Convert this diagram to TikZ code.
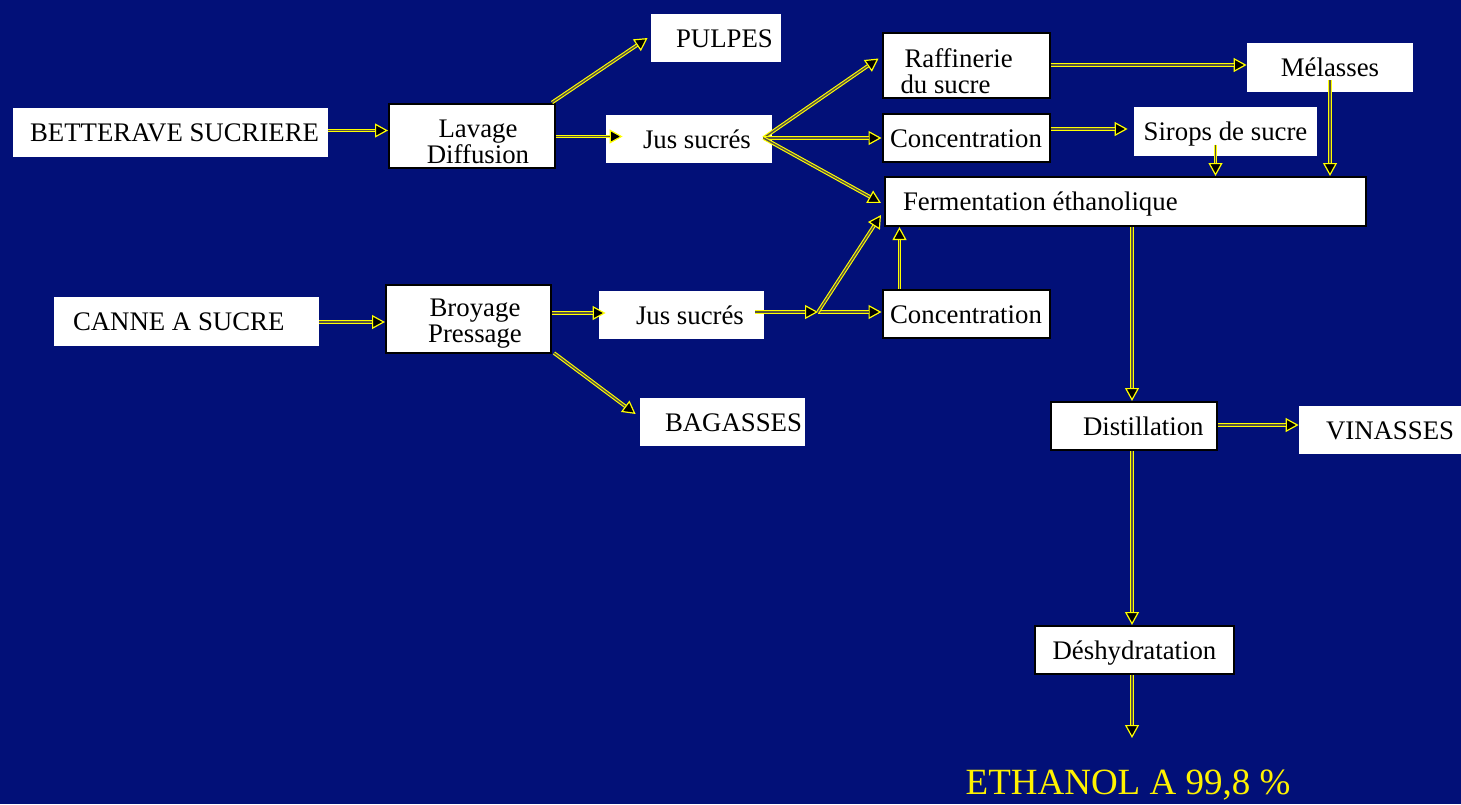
\documentclass[tikz,border=0pt]{standalone}
\usepackage{fontspec}
\setmainfont{Liberation Serif}
\usetikzlibrary{arrows.meta,calc}
\definecolor{bgblue}{RGB}{2,16,120}
\definecolor{arrowyellow}{RGB}{255,255,0}
\tikzset{
  boxed/.style={fill=white, draw=black, line width=1pt, inner sep=0pt, font=\fontsize{13.4}{13}\selectfont, text=black},
  plainbox/.style={fill=white, draw=none, inner sep=0pt, font=\fontsize{13.4}{13}\selectfont, text=black},
  oneline/.style={text height=9pt, text depth=0pt},
  flow/.style={draw=arrowyellow, line width=1.8pt,
    -{Triangle[length=6.5pt,width=7pt,fill=black,line width=0.6pt]},
    postaction={draw=black!75!yellow, line width=0.7pt, -, shorten >=6.5pt}},
}
\begin{document}
\begin{tikzpicture}[x=0.5pt,y=-0.5pt]
\fill[bgblue] (0,0) rectangle (1461,804);
\useasboundingbox (0,0) rectangle (1461,804);

% nodes
\node[plainbox, oneline, text width=157.5pt, minimum height=24.5pt, align=flush left] (bett) at (170.5,132.5) {\hspace*{8.5pt}BETTERAVE SUCRIERE};
\node[boxed, text width=83pt, minimum height=32pt, text height=14.5pt, text depth=13pt, align=center] (lav) at (472,135.5) {\hspace*{6pt}Lavage\\\hspace*{6pt}Diffusion};
\node[plainbox, oneline, text width=65pt, minimum height=24pt, align=flush left] (pulp) at (716,38) {\hspace*{12.5pt}PULPES};
\node[plainbox, oneline, text width=83pt, minimum height=24pt, align=flush left] (jus1) at (689,139) {\hspace*{18.5pt}Jus sucrés};
\node[boxed, text width=83.5pt, minimum height=32.5pt, text height=14.5pt, text depth=13pt, align=flush left] (raff) at (966,65.5) {\hspace*{11pt}Raffinerie\\\hspace*{9pt}du sucre};
\node[boxed, oneline, minimum width=83.5pt, minimum height=24pt] (conc1) at (966,138) {Concentration};
\node[plainbox, oneline, minimum width=91.5pt, minimum height=24.5pt] (sir) at (1225.5,131.5) {Sirops de sucre};
\node[plainbox, oneline, minimum width=83pt, minimum height=24.5pt] (mel) at (1330,67.5) {Mélasses};
\node[boxed, oneline, text width=240.5pt, minimum height=24.5pt, align=flush left] (ferm) at (1125.5,201.5) {\hspace*{9pt}Fermentation éthanolique};
\node[plainbox, oneline, text width=132.5pt, minimum height=24.5pt, align=flush left] (canne) at (186.5,321.5) {\hspace*{9.5pt}CANNE A SUCRE};
\node[boxed, text width=82.5pt, minimum height=34pt, text height=10pt, text depth=13pt, align=center] (broy) at (468.5,319) {\hspace*{6.5pt}Broyage\\\hspace*{6.5pt}Pressage};
\node[plainbox, oneline, text width=82.5pt, minimum height=24pt, align=flush left] (jus2) at (681.5,315) {\hspace*{18.5pt}Jus sucrés};
\node[boxed, oneline, minimum width=83.5pt, minimum height=24pt] (conc2) at (966,314) {Concentration};
\node[plainbox, oneline, text width=82.5pt, minimum height=24pt, align=flush left] (bag) at (722.5,422) {\hspace*{12.5pt}BAGASSES};
\node[boxed, oneline, text width=83pt, minimum height=24pt, align=flush left] (dist) at (1134,426) {\hspace*{16pt}Distillation};
\node[plainbox, oneline, text width=81pt, minimum height=24pt, align=flush left] (vin) at (1380,430) {\hspace*{13.5pt}VINASSES};
\node[boxed, oneline, minimum width=99.5pt, minimum height=24pt] (desh) at (1134.5,650) {Déshydratation};
\node[inner sep=0pt, text=yellow, font=\fontsize{18.5}{18.5}\selectfont] (eth) at (1128,785) {ETHANOL A 99,8 \%};

% helper coordinates
\coordinate (f1) at ($(jus1.east)+(-9,-1)$);
\coordinate (j1) at (818,312);
\coordinate (ethend) at (1132,738);
\coordinate (sirA) at ($(sir.center)+(-10,13)$);
\coordinate (sirB) at (sirA |- ferm.north);
\coordinate (melA) at ($(mel.center)+(0,12.5)$);
\coordinate (melB) at (melA |- ferm.north);
\coordinate (c2A) at ($(conc2.north west)+(18,0)$);
\coordinate (c2B) at (c2A |- ferm.south);
\coordinate (dN) at ($(dist.north)+(-2,0)$);
\coordinate (fS) at (dN |- ferm.south);
\coordinate (dS) at ($(dist.south)+(-2,0)$);
\coordinate (dD) at (dS |- desh.north);
\coordinate (eS) at (ethend |- desh.south);

% connectors
\draw[flow] ($(bett.east)+(0,-2)$) -- ($(bett.east -| lav.west)+(0,-2)$);
\draw[flow] ($(canne.east)+(0,0.5)$) -- ($(canne.east -| broy.west)+(0,0.5)$);
\draw[flow] ($(lav.north east)+(-4,0)$) -- ($(pulp.west)+(-3,0)$);
\draw[flow] ($(lav.east)+(0,1)$) -- ($(lav.east -| jus1.west)+(17,1)$);
\draw[flow] (f1) -- ($(raff.west)+(-3,-7)$);
\draw[flow] (f1) -- (f1 -| conc1.west);
\draw[flow] (f1) -- ($(ferm.west)+(-3,1.5)$);
\draw[flow] ($(raff.east)+(0,-0.5)$) -- ($(raff.east -| mel.west)+(0,-0.5)$);
\draw[flow] ($(conc1.east)+(0,-9)$) -- ($(conc1.east -| sir.west)+(-6,-9)$);
\draw[flow] (sirA) -- (sirB);
\draw[flow] (melA) -- (melB);
\draw[flow] ($(broy.east)+(0,-6)$) -- ($(broy.east -| jus2.west)+(7,-6)$);
\draw[flow] ($(broy.south east)+(2,-1)$) -- ($(bag.west)+(-4,-8)$);
\draw[flow] ($(jus2.east)+(-9,-3)$) -- (j1);
\draw[flow] (j1) -- (j1 -| conc2.west);
\draw[flow] (j1) -- ($(ferm.south west)+(-3,-12)$);
\draw[flow] (c2A) -- (c2B);
\draw[flow] (fS) -- (dN);
\draw[flow] ($(dist.east)+(0,-1)$) -- ($(dist.east -| vin.west)+(0,-1)$);
\draw[flow] (dS) -- (dD);
\draw[flow] (eS) -- (ethend);
\end{tikzpicture}
\end{document}
